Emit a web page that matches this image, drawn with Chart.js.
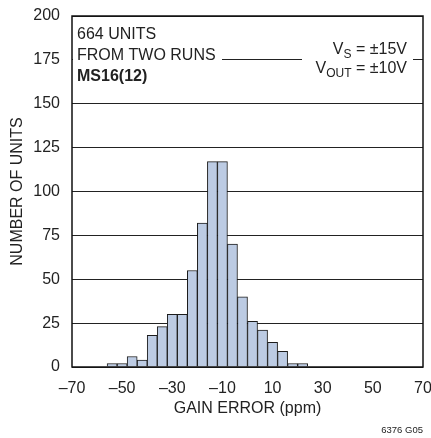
<!DOCTYPE html>
<html>
<head>
<meta charset="utf-8">
<script src="https://cdn.jsdelivr.net/npm/chart.js@4/dist/chart.umd.min.js"></script>
<style>
  html, body { margin: 0; padding: 0; background: #fff; }
  #wrap { width: 431px; height: 438px; position: relative; }
</style>
</head>
<body>
<div id="wrap"><canvas id="grafico"></canvas></div>
<script>
// centros de cada intervalo (ppm) y cantidad de unidades
const binCenters = [-54, -50, -46, -42, -38, -34, -30, -26, -22, -18, -14, -10, -6, -2, 2, 6, 10, 14, 18, 22];
const unitCounts = [2, 2, 6, 4, 18, 23, 30, 30, 55, 82, 117, 117, 70, 40, 26, 21, 14, 9, 2, 2];
const xTicks = [-70, -50, -30, -10, 10, 30, 50, 70];
const yTicks = [0, 25, 50, 75, 100, 125, 150, 175, 200];
const notesLeft = ['664 UNITS', 'FROM TWO RUNS', 'MS16(12)'];

const FONT = '"Liberation Sans", Arial, sans-serif';

// marco completo + textos del gráfico
const notesPlugin = {
  id: 'notes',
  afterDraw(chart) {
    const { ctx, chartArea: a } = chart;
    ctx.save();
    // tapar la línea de 175 detrás de los textos
    ctx.fillStyle = '#fff';
    ctx.fillRect(a.left + 1, 22, 149, 64);
    ctx.fillRect(302, 38, 111, 42);

    ctx.fillStyle = '#222';
    ctx.textBaseline = 'alphabetic';
    ctx.textAlign = 'left';
    ctx.font = '16px ' + FONT;
    ctx.fillText(notesLeft[0], 77, 39);
    ctx.fillText(notesLeft[1], 77, 60);
    ctx.font = 'bold 16px ' + FONT;
    ctx.fillText(notesLeft[2], 77, 81);

    // V_S y V_OUT alineados a la derecha
    const drawSub = (main, sub, rest, right, base) => {
      ctx.font = '16px ' + FONT;
      const w1 = ctx.measureText(main).width;
      const w3 = ctx.measureText(rest).width;
      ctx.font = '12px ' + FONT;
      const w2 = ctx.measureText(sub).width;
      let x = right - w1 - w2 - w3;
      ctx.font = '16px ' + FONT;
      ctx.fillText(main, x, base);
      x += w1;
      ctx.font = '12px ' + FONT;
      ctx.fillText(sub, x, base + 4);
      x += w2;
      ctx.font = '16px ' + FONT;
      ctx.fillText(rest, x, base);
    };
    drawSub('V', 'S', ' = \u00b115V', 407, 54);
    drawSub('V', 'OUT', ' = \u00b110V', 407, 73);

    ctx.font = '9.5px ' + FONT;
    ctx.textAlign = 'right';
    ctx.fillText('6376 G05', 423, 433);

    ctx.strokeStyle = '#111';
    ctx.lineWidth = 1.5;
    ctx.strokeRect(a.left, a.top, a.right - a.left, a.bottom - a.top);
    ctx.restore();
  }
};

new Chart(document.getElementById('grafico'), {
  type: 'bar',
  data: {
    datasets: [{
      data: binCenters.map((c, i) => ({ x: c, y: unitCounts[i] })),
      backgroundColor: '#bccbe3',
      borderColor: '#1c1c1c',
      borderWidth: 1,
      barPercentage: 1,
      categoryPercentage: 1
    }]
  },
  options: {
    responsive: true,
    maintainAspectRatio: false,
    animation: false,
    events: [],
    layout: { padding: { top: 16, right: 8, bottom: 0, left: 0 } },
    plugins: { legend: { display: false }, tooltip: { enabled: false } },
    scales: {
      x: {
        type: 'linear',
        offset: false,
        min: -70, max: 70,
        afterBuildTicks: s => { s.ticks = xTicks.map(v => ({ value: v })); },
        afterFit: s => { s.height = 71; s.paddingLeft = 0; s.paddingRight = 0; },
        grid: { display: false, drawTicks: false },
        border: { display: false },
        ticks: {
          color: '#222', padding: 12,
          font: { family: FONT, size: 16 },
          maxRotation: 0, autoSkip: false,
          callback: v => v < 0 ? '\u2013' + Math.abs(v) : String(v)
        },
        title: {
          display: true, text: 'GAIN ERROR (ppm)', color: '#222',
          font: { family: FONT, size: 16 },
          padding: { top: 0, bottom: 20 }
        }
      },
      y: {
        min: 0, max: 200,
        afterBuildTicks: s => { s.ticks = yTicks.map(v => ({ value: v })); },
        afterFit: s => { s.width = 72; s.paddingTop = 0; s.paddingBottom = 0; },
        grid: { color: '#222', lineWidth: 1, drawTicks: false },
        border: { display: false },
        ticks: {
          color: '#222', padding: 12,
          font: { family: FONT, size: 16 }
        },
        title: {
          display: true, text: 'NUMBER OF UNITS', color: '#222',
          font: { family: FONT, size: 16 },
          padding: { top: 8, bottom: 0 }
        }
      }
    }
  },
  plugins: [notesPlugin]
});
</script>
</body>
</html>
